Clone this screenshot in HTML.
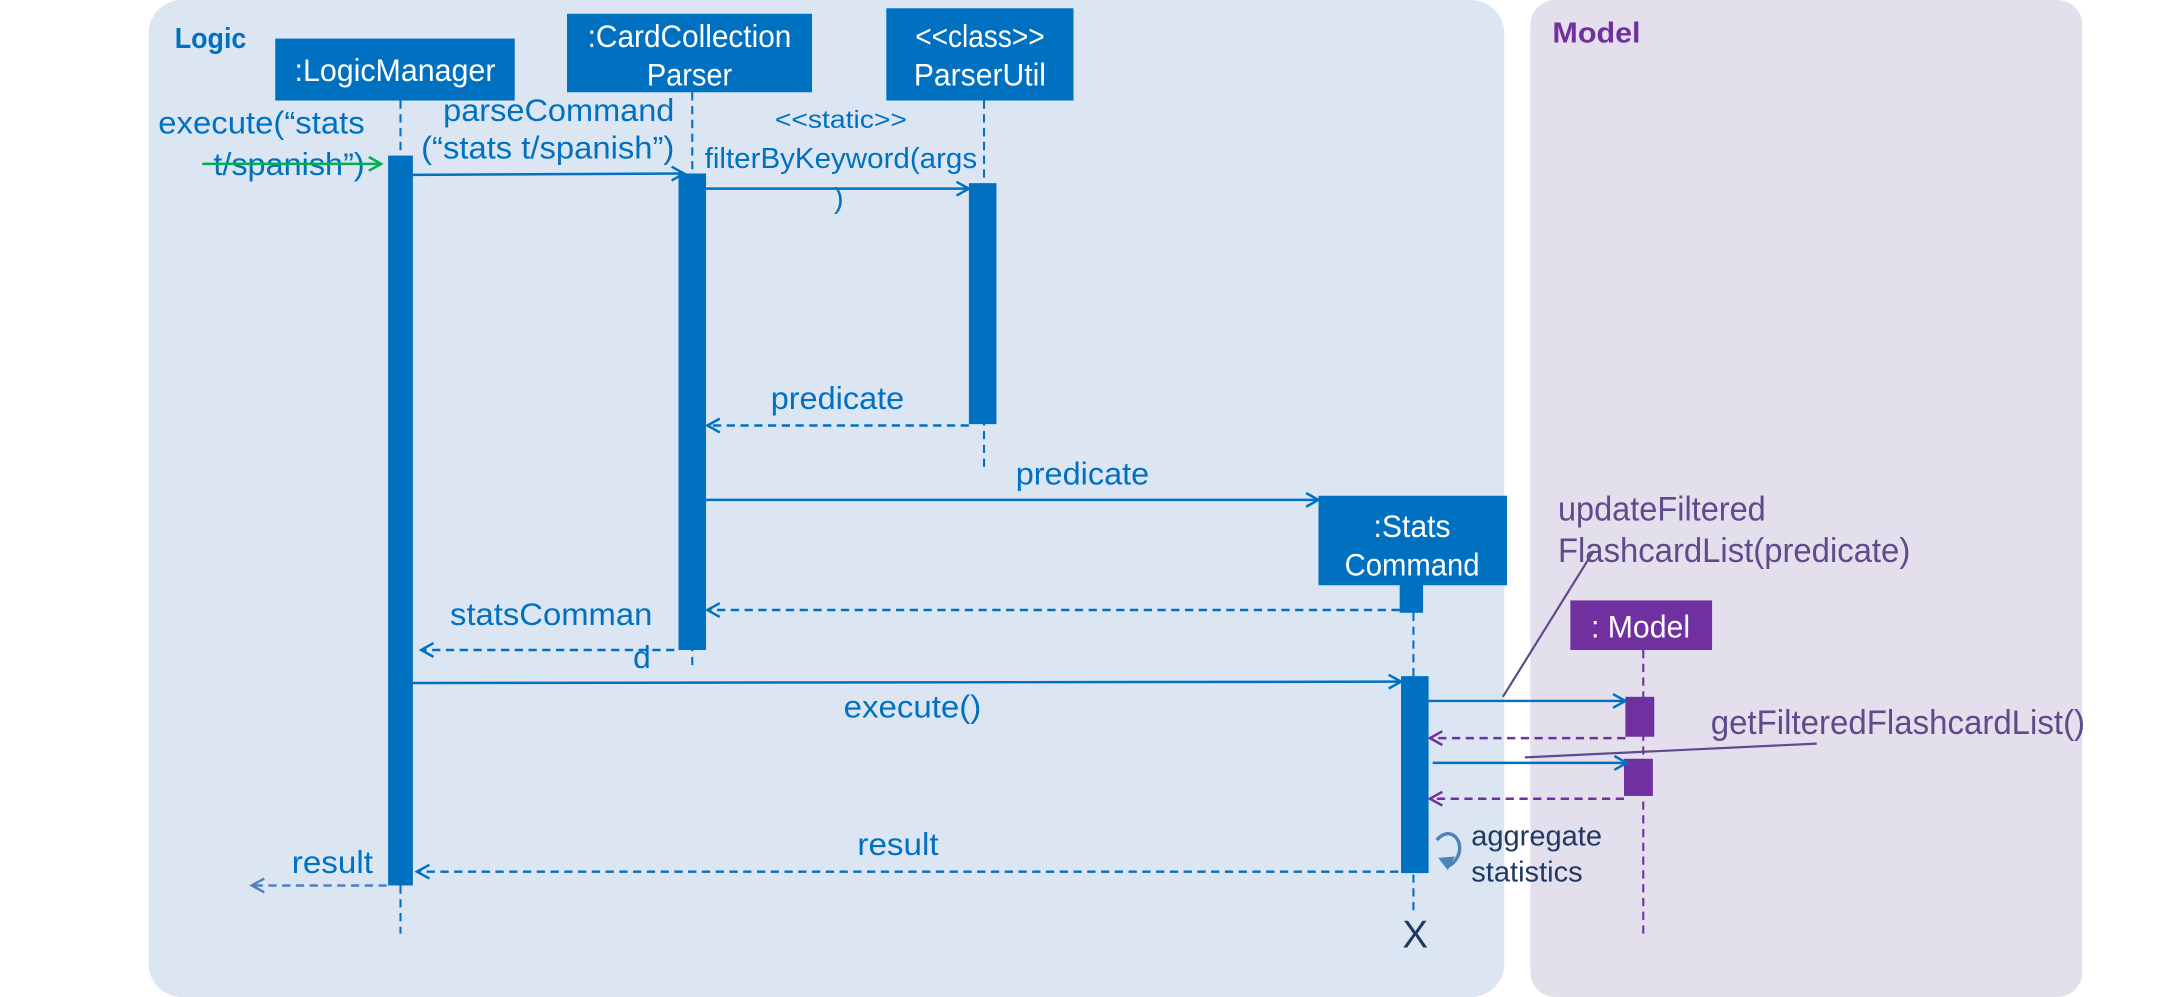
<!DOCTYPE html>
<html><head><meta charset="utf-8"><style>
html,body{margin:0;padding:0;background:#fff;}
svg{display:block;}
text{font-family:"Liberation Sans",sans-serif;}
</style></head><body>
<svg width="2158" height="997" viewBox="0 0 1568 724" preserveAspectRatio="none" xmlns="http://www.w3.org/2000/svg">
<defs>
<marker id="ab" markerWidth="12" markerHeight="12" refX="10" refY="6" orient="auto" markerUnits="userSpaceOnUse"><path d="M1,1 L10,6 L1,11" fill="none" stroke="#0070c0" stroke-width="1.8"/></marker>
<marker id="ag" markerWidth="12" markerHeight="12" refX="10" refY="6" orient="auto" markerUnits="userSpaceOnUse"><path d="M1,1 L10,6 L1,11" fill="none" stroke="#00b050" stroke-width="1.8"/></marker>
<marker id="ap" markerWidth="12" markerHeight="12" refX="10" refY="6" orient="auto" markerUnits="userSpaceOnUse"><path d="M1,1 L10,6 L1,11" fill="none" stroke="#7030a0" stroke-width="1.8"/></marker>
<marker id="al" markerWidth="12" markerHeight="12" refX="10" refY="6" orient="auto" markerUnits="userSpaceOnUse"><path d="M1,1 L10,6 L1,11" fill="none" stroke="#4f81bd" stroke-width="1.8"/></marker>
</defs>
<rect x="108" y="0" width="985" height="724" rx="24" fill="#dce6f2"/>
<rect x="1112" y="0" width="401" height="724" rx="18" fill="#e4dfec"/>
<text x="127" y="35" font-size="21" font-weight="bold" fill="#0070c0" textLength="52" lengthAdjust="spacingAndGlyphs">Logic</text>
<text x="1128" y="31" font-size="21" font-weight="bold" fill="#7030a0" textLength="64" lengthAdjust="spacingAndGlyphs">Model</text>

<g stroke="#0070c0" stroke-width="1.5" stroke-dasharray="6,4" fill="none">
<line x1="291" y1="73" x2="291" y2="678"/>
<line x1="503" y1="67" x2="503" y2="487"/>
<line x1="715" y1="73" x2="715" y2="340"/>
<line x1="1027" y1="445" x2="1027" y2="662"/>
</g>
<line x1="1194" y1="472" x2="1194" y2="678" stroke="#7030a0" stroke-width="1.5" stroke-dasharray="6,4"/>

<rect x="200" y="28" width="174" height="45" fill="#0070c0"/>
<text x="287" y="59" font-size="23" fill="#fff" text-anchor="middle" textLength="146" lengthAdjust="spacingAndGlyphs">:LogicManager</text>
<rect x="412" y="10" width="178" height="57" fill="#0070c0"/>
<text x="501" y="34" font-size="23" fill="#fff" text-anchor="middle" textLength="148" lengthAdjust="spacingAndGlyphs">:CardCollection</text>
<text x="501" y="62" font-size="23" fill="#fff" text-anchor="middle" textLength="62" lengthAdjust="spacingAndGlyphs">Parser</text>
<rect x="644" y="6" width="136" height="67" fill="#0070c0"/>
<text x="712" y="34" font-size="23" fill="#fff" text-anchor="middle" textLength="94" lengthAdjust="spacingAndGlyphs">&lt;&lt;class&gt;&gt;</text>
<text x="712" y="62" font-size="23" fill="#fff" text-anchor="middle" textLength="96" lengthAdjust="spacingAndGlyphs">ParserUtil</text>
<rect x="958" y="360" width="137" height="65" fill="#0070c0"/>
<rect x="1017" y="424" width="17" height="21" fill="#0070c0"/>
<text x="1026" y="390" font-size="23" fill="#fff" text-anchor="middle" textLength="56" lengthAdjust="spacingAndGlyphs">:Stats</text>
<text x="1026" y="418" font-size="23" fill="#fff" text-anchor="middle" textLength="98" lengthAdjust="spacingAndGlyphs">Command</text>
<rect x="1141" y="436" width="103" height="36" fill="#7030a0"/>
<text x="1192" y="463" font-size="23" fill="#fff" text-anchor="middle" textLength="72" lengthAdjust="spacingAndGlyphs">: Model</text>

<rect x="282" y="113" width="18" height="530" fill="#0070c0"/>
<rect x="493" y="126" width="20" height="346" fill="#0070c0"/>
<rect x="704" y="133" width="20" height="175" fill="#0070c0"/>
<rect x="1018" y="491" width="20" height="143" fill="#0070c0"/>
<rect x="1181" y="506" width="21" height="29" fill="#7030a0"/>
<rect x="1180" y="551" width="21" height="27" fill="#7030a0"/>

<g font-size="23" fill="#0070c0">
<text x="115" y="97" textLength="150" lengthAdjust="spacingAndGlyphs">execute(“stats</text>
<text x="155" y="127" textLength="110" lengthAdjust="spacingAndGlyphs">t/spanish”)</text>
<text x="322" y="88" textLength="168" lengthAdjust="spacingAndGlyphs">parseCommand</text>
<text x="306" y="115" textLength="184" lengthAdjust="spacingAndGlyphs">(“stats t/spanish”)</text>
<text x="563" y="93" font-size="18" textLength="96" lengthAdjust="spacingAndGlyphs">&lt;&lt;static&gt;&gt;</text>
<text x="512" y="122" font-size="21" textLength="198" lengthAdjust="spacingAndGlyphs">filterByKeyword(args</text>
<text x="606" y="151" font-size="21">)</text>
<text x="560" y="297" textLength="97" lengthAdjust="spacingAndGlyphs">predicate</text>
<text x="738" y="352" textLength="97" lengthAdjust="spacingAndGlyphs">predicate</text>
<text x="327" y="454" textLength="147" lengthAdjust="spacingAndGlyphs">statsComman</text>
<text x="460" y="485">d</text>
<text x="613" y="521" textLength="100" lengthAdjust="spacingAndGlyphs">execute()</text>
<text x="623" y="621" textLength="59" lengthAdjust="spacingAndGlyphs">result</text>
<text x="212" y="634" textLength="59" lengthAdjust="spacingAndGlyphs">result</text>
</g>
<g font-size="25" fill="#5f4b8b">
<text x="1132" y="378" textLength="151" lengthAdjust="spacingAndGlyphs">updateFiltered</text>
<text x="1132" y="408" textLength="256" lengthAdjust="spacingAndGlyphs">FlashcardList(predicate)</text>
<text x="1243" y="533" textLength="272" lengthAdjust="spacingAndGlyphs">getFilteredFlashcardList()</text>
</g>
<g font-size="21" fill="#1f3864">
<text x="1069" y="614" textLength="95" lengthAdjust="spacingAndGlyphs">aggregate</text>
<text x="1069" y="640" textLength="81" lengthAdjust="spacingAndGlyphs">statistics</text>
<text x="1019" y="688" font-size="28">X</text>
</g>

<line x1="147" y1="119" x2="277" y2="119" stroke="#00b050" stroke-width="1.8" marker-end="url(#ag)"/>
<g stroke="#0070c0" stroke-width="1.8" fill="none">
<line x1="300" y1="127" x2="497" y2="126" marker-end="url(#ab)"/>
<line x1="513" y1="137" x2="704" y2="137" marker-end="url(#ab)"/>
<line x1="513" y1="363" x2="958" y2="363" marker-end="url(#ab)"/>
<line x1="300" y1="496" x2="1018" y2="495" marker-end="url(#ab)"/>
<line x1="1038" y1="509" x2="1181" y2="509" marker-end="url(#ab)"/>
<line x1="1041" y1="554" x2="1182" y2="554" marker-end="url(#ab)"/>
</g>
<g stroke="#0070c0" stroke-width="1.8" stroke-dasharray="6,4" fill="none">
<line x1="704" y1="309" x2="514" y2="309" marker-end="url(#ab)"/>
<line x1="1017" y1="443" x2="514" y2="443" marker-end="url(#ab)"/>
<line x1="490" y1="472" x2="306" y2="472" marker-end="url(#ab)"/>
<line x1="1016" y1="633" x2="303" y2="633" marker-end="url(#ab)"/>
</g>
<line x1="281" y1="643" x2="183" y2="643" stroke="#4f81bd" stroke-width="1.8" stroke-dasharray="6,4" marker-end="url(#al)"/>
<g stroke="#7030a0" stroke-width="1.8" stroke-dasharray="6,4" fill="none">
<line x1="1181" y1="536" x2="1039" y2="536" marker-end="url(#ap)"/>
<line x1="1180" y1="580" x2="1039" y2="580" marker-end="url(#ap)"/>
</g>
<g stroke="#5f4b8b" stroke-width="1.6">
<line x1="1158" y1="400" x2="1092" y2="506"/>
<line x1="1320" y1="540" x2="1108" y2="550"/>
</g>
<path d="M1044,610 C1054,598 1066,612 1058,624 C1056,627 1054,628 1052,629" fill="none" stroke="#4f81bd" stroke-width="2.5"/>
<path d="M1045,623 L1052,632 L1057,622 Z" fill="#4f81bd"/>
</svg>
</body></html>
